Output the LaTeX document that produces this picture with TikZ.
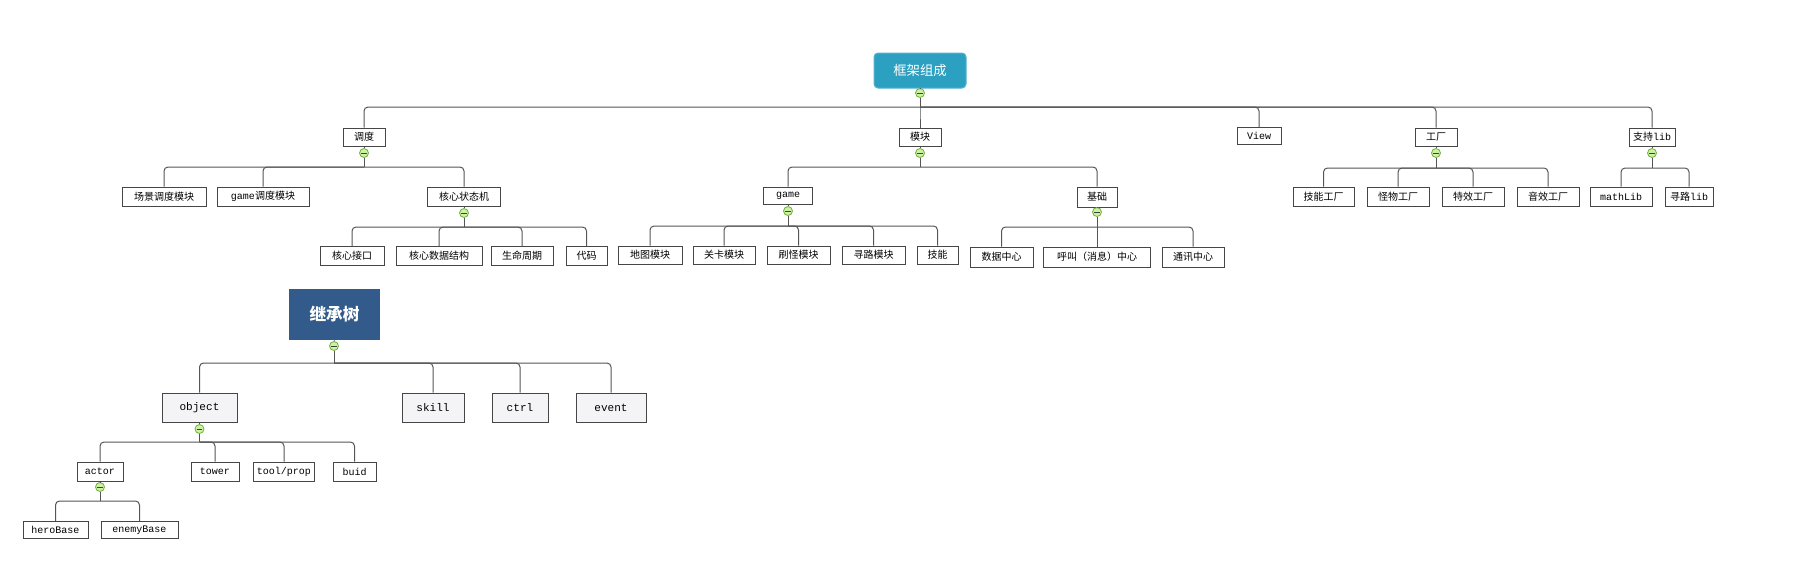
\documentclass[tikz,border=0pt]{standalone}
\usepackage{fontspec}
\setmainfont{Noto Sans CJK SC}
\setmonofont{Liberation Mono}
\definecolor{rootteal}{RGB}{43,160,192}
\definecolor{treeblue}{RGB}{50,90,138}
\definecolor{linegray}{RGB}{85,85,85}
\definecolor{boxgray}{RGB}{70,70,70}
\definecolor{softgray}{RGB}{244,244,246}
\definecolor{foldfill}{RGB}{205,240,165}
\definecolor{foldline}{RGB}{110,178,60}
\tikzset{every picture/.style={line width=0.75pt}}

\begin{document}
\begin{tikzpicture}[x=0.75pt,y=0.75pt,yscale=-1,xscale=1,
    wh/.style 2 args={minimum width=#1*0.75pt, minimum height=#2*0.75pt},
    topic/.style={draw=boxgray, fill=white, inner sep=0pt, font=\fontsize{7.5}{9}\selectfont},
    roottopic/.style={draw=rootteal!80!white, fill=rootteal, rounded corners=3pt, inner sep=0pt, text=white, font=\fontsize{10}{12}\selectfont},
    treetopic/.style={fill=treeblue, inner sep=0pt, text=white, font=\fontsize{12.5}{14}\selectfont\bfseries},
    classtopic/.style={draw=boxgray, fill=softgray, inner sep=0pt, font=\fontsize{8.3}{10}\selectfont},
    fold/.style={circle, draw=foldline, fill=foldfill, inner sep=0pt, minimum size=9*0.75pt, line width=0.6pt,
        path picture={\draw[line width=0.6pt, black!75] ([xshift=1.3pt]path picture bounding box.west) -- ([xshift=-1.3pt]path picture bounding box.east);}},
    link/.style={draw=linegray, rounded corners=3pt}]
    \useasboundingbox (0,0) rectangle (1793,583);

    % root
    \node[roottopic, wh={92}{35}] (root) at (920,70.5) {框架组成};
    \node[fold] (root-f) at (920,93) {};
    \coordinate (root-b) at (920,107);

    % level 1
    \node[topic, wh={42}{18}] (sched) at (364,137) {调度};
    \node[topic, wh={42}{18}] (module) at (920,137) {模块};
    \node[topic, wh={44}{17}] (view) at (1259,136) {\texttt{View}};
    \node[topic, wh={42}{18}] (factory) at (1436,137) {工厂};
    \node[topic, wh={46}{18}] (libs) at (1652,137) {支持\texttt{lib}};
    \node[fold] (sched-f) at (364,153) {};
    \node[fold] (module-f) at (920,153) {};
    \node[fold] (factory-f) at (1436,153) {};
    \node[fold] (libs-f) at (1652,153) {};
    \coordinate (sched-b) at (364,167);
    \coordinate (module-b) at (920,167);
    \coordinate (factory-b) at (1436,168);
    \coordinate (libs-b) at (1652,168);

    % level 2
    \node[topic, wh={84}{19}] (scene) at (164,196.5) {场景调度模块};
    \node[topic, wh={92}{19}] (gamesched) at (263,196.5) {\texttt{game}调度模块};
    \node[topic, wh={73}{19}] (fsm) at (464,196.5) {核心状态机};
    \node[topic, wh={49}{17}] (game) at (788,195.5) {\texttt{game}};
    \node[topic, wh={40}{20}] (base) at (1097,197) {基础};
    \node[topic, wh={61}{19}] (skillf) at (1323.5,196.5) {技能工厂};
    \node[topic, wh={62}{19}] (monf) at (1398,196.5) {怪物工厂};
    \node[topic, wh={62}{19}] (fxf) at (1473,196.5) {特效工厂};
    \node[topic, wh={62}{19}] (sndf) at (1548,196.5) {音效工厂};
    \node[topic, wh={62}{19}] (mathlib) at (1621,196.5) {\texttt{mathLib}};
    \node[topic, wh={48}{19}] (pathlib) at (1689,196.5) {寻路\texttt{lib}};
    \node[fold] (fsm-f) at (464,213) {};
    \node[fold] (game-f) at (788,211) {};
    \node[fold] (base-f) at (1097,212) {};
    \coordinate (fsm-b) at (464,227);
    \coordinate (game-b) at (788,226);
    \coordinate (base-b) at (1097,227);

    % level 3
    \node[topic, wh={64}{19}] (iface) at (352,256) {核心接口};
    \node[topic, wh={86}{19}] (data) at (439,256) {核心数据结构};
    \node[topic, wh={62}{19}] (life) at (522,256) {生命周期};
    \node[topic, wh={41}{19}] (code) at (586.5,256) {代码};
    \node[topic, wh={64}{18}] (map) at (650,255) {地图模块};
    \node[topic, wh={62}{18}] (stage) at (724,255) {关卡模块};
    \node[topic, wh={63}{18}] (spawn) at (798.5,255) {刷怪模块};
    \node[topic, wh={63}{18}] (route) at (873.5,255) {寻路模块};
    \node[topic, wh={41}{18}] (skill) at (937.5,255) {技能};
    \node[topic, wh={63}{20}] (datac) at (1001.5,257) {数据中心};
    \node[topic, wh={107}{20}] (callc) at (1097,257) {呼叫（消息）中心};
    \node[topic, wh={62}{20}] (netc) at (1193,257) {通讯中心};

    % connectors, framework tree
    \draw[link] (root.south) -- (root-f.north);
    \draw[link] (root-f.south) -- (root-b);
    \draw[link] (root-b) -| (sched.north);
    \draw[link] (root-b) -| (module.north);
    \draw[link] (root-b) -| (view.north);
    \draw[link] (root-b) -| (factory.north);
    \draw[link] (root-b) -| (libs.north);
    \draw[link] (sched.south) -- (sched-f.north);
    \draw[link] (sched-f.south) -- (sched-b);
    \draw[link] (sched-b) -| (scene.north);
    \draw[link] (sched-b) -| (gamesched.north);
    \draw[link] (sched-b) -| (fsm.north);
    \draw[link] (fsm.south) -- (fsm-f.north);
    \draw[link] (fsm-f.south) -- (fsm-b);
    \draw[link] (fsm-b) -| (iface.north);
    \draw[link] (fsm-b) -| (data.north);
    \draw[link] (fsm-b) -| (life.north);
    \draw[link] (fsm-b) -| (code.north);
    \draw[link] (module.south) -- (module-f.north);
    \draw[link] (module-f.south) -- (module-b);
    \draw[link] (module-b) -| (game.north);
    \draw[link] (module-b) -| (base.north);
    \draw[link] (game.south) -- (game-f.north);
    \draw[link] (game-f.south) -- (game-b);
    \draw[link] (game-b) -| (map.north);
    \draw[link] (game-b) -| (stage.north);
    \draw[link] (game-b) -| (spawn.north);
    \draw[link] (game-b) -| (route.north);
    \draw[link] (game-b) -| (skill.north);
    \draw[link] (base.south) -- (base-f.north);
    \draw[link] (base-f.south) -- (base-b);
    \draw[link] (base-b) -| (datac.north);
    \draw[link] (base-b) -| (callc.north);
    \draw[link] (base-b) -| (netc.north);
    \draw[link] (factory.south) -- (factory-f.north);
    \draw[link] (factory-f.south) -- (factory-b);
    \draw[link] (factory-b) -| (skillf.north);
    \draw[link] (factory-b) -| (monf.north);
    \draw[link] (factory-b) -| (fxf.north);
    \draw[link] (factory-b) -| (sndf.north);
    \draw[link] (libs.south) -- (libs-f.north);
    \draw[link] (libs-f.south) -- (libs-b);
    \draw[link] (libs-b) -| (mathlib.north);
    \draw[link] (libs-b) -| (pathlib.north);

    % inheritance tree
    \node[treetopic, wh={91}{51}] (tree) at (334.5,314.5) {继承树};
    \node[fold] (tree-f) at (334,346) {};
    \coordinate (tree-b) at (334,363);
    \node[classtopic, wh={75}{29}] (object) at (199.5,407.5) {\texttt{object}};
    \node[classtopic, wh={62}{29}] (skillc) at (433,407.5) {\texttt{skill}};
    \node[classtopic, wh={56}{29}] (ctrl) at (520,407.5) {\texttt{ctrl}};
    \node[classtopic, wh={70}{29}] (event) at (611,407.5) {\texttt{event}};
    \node[fold] (object-f) at (199.5,429) {};
    \coordinate (object-b) at (199.5,442);
    \node[topic, wh={46}{19}] (actor) at (100,471.5) {\texttt{actor}};
    \node[topic, wh={48}{19}] (tower) at (215,471.5) {\texttt{tower}};
    \node[topic, wh={61}{19}] (tool) at (284,471.5) {\texttt{tool/prop}};
    \node[topic, wh={43}{19}] (buid) at (354.5,471.5) {\texttt{buid}};
    \node[fold] (actor-f) at (100,487) {};
    \coordinate (actor-b) at (100,501);
    \node[topic, wh={65}{17}] (hero) at (55.5,530) {\texttt{heroBase}};
    \node[topic, wh={77}{17}] (enemy) at (139.5,530) {\texttt{enemyBase}};

    \draw[link] (tree.south) -- (tree-f.north);
    \draw[link] (tree-f.south) -- (tree-b);
    \draw[link] (tree-b) -| (object.north);
    \draw[link] (tree-b) -| (skillc.north);
    \draw[link] (tree-b) -| (ctrl.north);
    \draw[link] (tree-b) -| (event.north);
    \draw[link] (object.south) -- (object-f.north);
    \draw[link] (object-f.south) -- (object-b);
    \draw[link] (object-b) -| (actor.north);
    \draw[link] (object-b) -| (tower.north);
    \draw[link] (object-b) -| (tool.north);
    \draw[link] (object-b) -| (buid.north);
    \draw[link] (actor.south) -- (actor-f.north);
    \draw[link] (actor-f.south) -- (actor-b);
    \draw[link] (actor-b) -| (hero.north);
    \draw[link] (actor-b) -| (enemy.north);
\end{tikzpicture}
\end{document}
